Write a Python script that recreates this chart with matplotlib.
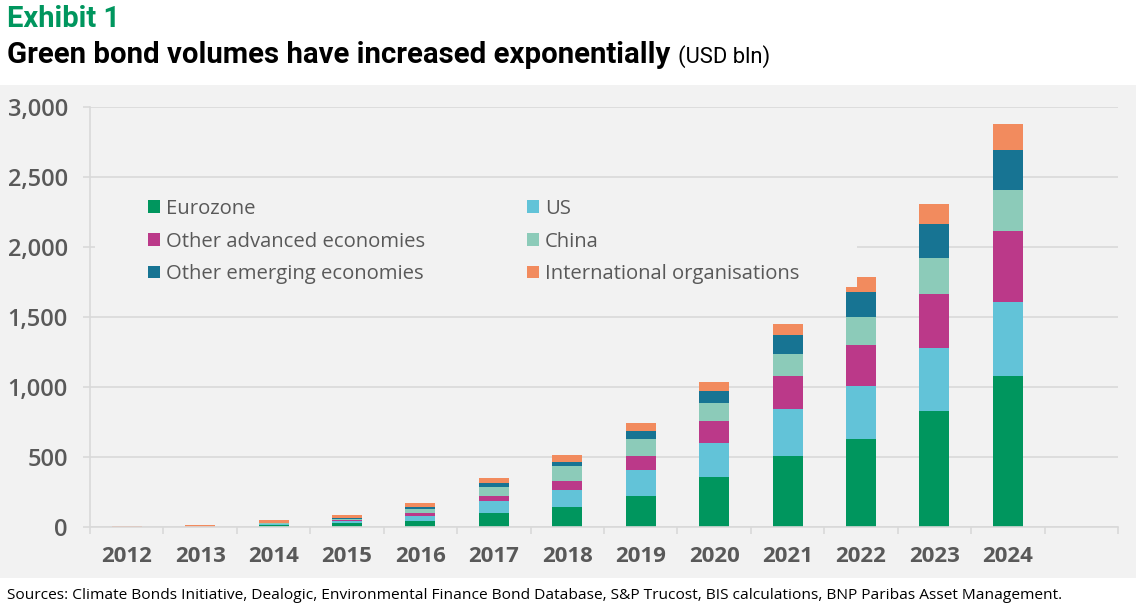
import matplotlib.pyplot as plt
import matplotlib.transforms as mtransforms
from matplotlib.patches import Rectangle
import numpy as np

years = ["2012", "2013", "2014", "2015", "2016", "2017", "2018",
         "2019", "2020", "2021", "2022", "2023", "2024"]
eurozone = [1, 2, 17, 28, 45, 100, 143, 221, 357, 507, 629, 829, 1079]
us = [0, 0, 5, 12, 36, 86, 121, 186, 243, 336, 378, 450, 530]
other_adv = [0, 0, 3, 10, 19, 35, 65, 100, 157, 236, 293, 385, 505]
china = [0, 0, 2, 7, 31, 65, 107, 122, 129, 157, 200, 257, 293]
other_em = [0, 0, 4, 10, 14, 28, 28, 57, 85, 135, 179, 243, 286]
intl = [8, 14, 21, 21, 29, 36, 50, 57, 65, 79, 107, 143, 186]

series = [
    ("Eurozone", eurozone, "#00965e"),
    ("US", us, "#62c3d8"),
    ("Other advanced economies", other_adv, "#bb3989"),
    ("China", china, "#8ccbb9"),
    ("Other emerging economies", other_em, "#177493"),
    ("International organisations", intl, "#f28b5e"),
]

BG = "#f2f2f2"
GRID = "#d9d9d9"
TXT = "#595959"
W, H = 1136, 604

plt.rcParams["font.family"] = ["Open Sans", "DejaVu Sans"]

fig = plt.figure(figsize=(W / 100, H / 100), dpi=100)
fig.patches.append(Rectangle((0, 1 - 578 / H), 1, (578 - 85) / H,
                             transform=fig.transFigure, facecolor=BG,
                             edgecolor="none", zorder=-5))

ax = fig.add_axes([90 / W, 1 - 527 / H, (1118 - 90) / W, (527 - 107) / H])
ax.set_facecolor(BG)

x = np.arange(len(years))
bottom = np.zeros(len(years))
handles = []
for name, vals, col in series:
    b = ax.bar(x, vals, width=0.41, bottom=bottom, color=col, label=name,
               zorder=2, linewidth=0)
    bottom += np.array(vals)
    handles.append(b)

ax.set_xlim(-0.5, 13.5)
ax.set_ylim(0, 3000)
ax.set_yticks(range(0, 3001, 500))
ax.set_yticklabels([f"{v:,}" for v in range(0, 3001, 500)])
ax.set_xticks(x)
ax.set_xticklabels(years)
ax.set_xticks(np.arange(-0.5, 13.6, 1), minor=True)

ax.set_axisbelow(True)
ax.grid(axis="y", color=GRID, linewidth=1.2, zorder=0.5)
for s in ["top", "right"]:
    ax.spines[s].set_visible(False)
for s in ["left", "bottom"]:
    ax.spines[s].set_color(GRID)
    ax.spines[s].set_linewidth(1.2)

ax.tick_params(axis="x", which="major", length=0, pad=14,
               labelsize=16, labelcolor=TXT)
ax.tick_params(axis="x", which="minor", length=5, color=GRID, width=1.2)
ax.tick_params(axis="y", length=5, color=GRID, width=1.2, pad=11,
               labelsize=17, labelcolor=TXT)
for lab in ax.get_xticklabels():
    lab.set_fontweight("bold")
for lab in ax.get_yticklabels():
    lab.set_fontweight("semibold")

# legend background box (covers gridline and part of the 2022 bar)
trans = mtransforms.blended_transform_factory(ax.transAxes, ax.transData)
ax.add_patch(Rectangle(((95 - 90) / 1028, 1714), (857 - 95) / 1028, 2440 - 1714,
                       transform=trans, facecolor=BG, edgecolor="none",
                       zorder=3))

order = [0, 2, 4, 1, 3, 5]
leg = ax.legend([handles[i] for i in order], [series[i][0] for i in order],
                ncol=2, loc="upper left",
                bbox_to_anchor=((148 - 90) / 1028, (527 - 199) / 420),
                frameon=False, fontsize=14.6, handlelength=0.6,
                handleheight=0.6, handletextpad=0.3, columnspacing=5.0,
                labelspacing=0.62, borderaxespad=0, borderpad=0)
leg.set_zorder(4)
for t in leg.get_texts():
    t.set_color(TXT)

tfam = ["Roboto", "DejaVu Sans"]
fig.text(7 / W, 1 - 27 / H, "Exhibit 1", color="#00965e", fontsize=21,
         fontweight="bold", va="baseline", family=tfam)
t2 = fig.text(7 / W, 1 - 63 / H, "Green bond volumes have increased exponentially",
              color="black", fontsize=21.2, fontweight="bold", va="baseline",
              family=tfam)
fig.canvas.draw()
ext = t2.get_window_extent()
fig.text((ext.x1 + 8) / W, 1 - 63 / H, "(USD bln)", color="black",
         fontsize=15.8, va="baseline", family=tfam)
fig.text(7 / W, 1 - 599 / H,
         "Sources: Climate Bonds Initiative, Dealogic, Environmental Finance Bond "
         "Database, S&P Trucost, BIS calculations, BNP Paribas Asset Management.",
         color="black", fontsize=11.15, va="baseline")

fig.savefig("out.png", dpi=100, facecolor="white")
